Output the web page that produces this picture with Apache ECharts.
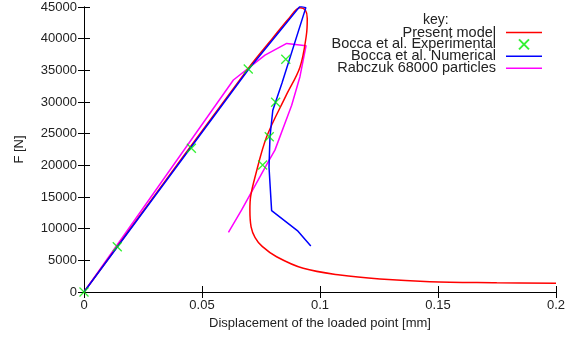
<!DOCTYPE html>
<html>
<head>
<meta charset="utf-8">
<script src="https://cdn.jsdelivr.net/npm/echarts@6/dist/echarts.min.js"></script>
<style>html,body{margin:0;padding:0;background:#fff}#c{width:586px;height:338px}</style>
</head>
<body>
<div id="c"></div>
<script>
// Tick definitions
const xTicks = [0, 0.05, 0.1, 0.15, 0.2];
const yTicks = [0, 5000, 10000, 15000, 20000, 25000, 30000, 35000, 40000, 45000];

// Present model (displacement mm, force N)
const presentX = [0, 0.0696, 0.080, 0.0868, 0.0915, 0.0938, 0.0946, 0.0942, 0.0915, 0.0856, 0.0774, 0.0725, 0.0706, 0.0703, 0.0708, 0.0725, 0.0755, 0.0816, 0.0929, 0.1085, 0.1254, 0.1466, 0.1749, 0.2];
const presentY = [0, 35300, 40100, 43200, 44900, 44500, 43200, 40500, 35500, 31000, 24500, 18200, 15050, 12950, 10300, 8600, 7200, 5570, 3740, 2680, 2050, 1630, 1470, 1370];

// Bocca et al. Experimental
const expX = [0, 0.0141, 0.0455, 0.0696, 0.0855, 0.0812, 0.0785, 0.0757];
const expY = [0, 7150, 22690, 35210, 36740, 29950, 24520, 20050];

// Bocca et al. Numerical
const numX = [0, 0.0696, 0.081, 0.0915, 0.094, 0.0839, 0.080, 0.0788, 0.0784, 0.0795, 0.0904, 0.0961];
const numY = [0, 35100, 40300, 45100, 44900, 33000, 28700, 24500, 19700, 12850, 9700, 7250];

// Rabczuk 68000 particles
const rabX = [0, 0.0633, 0.0767, 0.0859, 0.0941, 0.0915, 0.088, 0.0809, 0.0781, 0.0668, 0.0612];
const rabY = [0, 33470, 37400, 39250, 38900, 34000, 29500, 22400, 20600, 12950, 9430];

const names = ['Present model', 'Bocca et al. Experimental', 'Bocca et al. Numerical', 'Rabczuk 68000 particles'];

const zip = (a, b) => a.map((v, i) => [v, b[i]]);
const font = 'Liberation Sans';
const txt = '#222';
const lineIcon = 'path://M0,0H36V1.6H0Z';

const chart = echarts.init(document.getElementById('c'), null, {renderer: 'canvas'});
const xBase = {
  type: 'value', min: xTicks[0], max: xTicks[xTicks.length - 1], interval: 0.05,
  axisLine: {lineStyle: {color: '#000', width: 1}},
  axisTick: {inside: true, length: 6, lineStyle: {color: '#000'}},
  splitLine: {show: false}
};
const yBase = {
  type: 'value', min: yTicks[0], max: yTicks[yTicks.length - 1], interval: 5000,
  axisLine: {lineStyle: {color: '#000', width: 1}},
  axisTick: {inside: true, length: 6, lineStyle: {color: '#000'}},
  splitLine: {show: false}
};
chart.setOption({
  animation: false,
  grid: {left: 84, right: 30, top: 7, bottom: 46},
  graphic: [{type: 'text', left: 423, top: 13, style: {text: 'key:', font: '14px "Liberation Sans"', fill: txt}}],
  legend: {
    data: names.map((n, i) => i === 1 ? {name: n} : {name: n, icon: lineIcon}),
    orient: 'vertical', right: 44, top: 25, align: 'right', padding: 0,
    itemWidth: 36, itemHeight: 10, itemGap: -3.1,
    textStyle: {fontFamily: font, fontSize: 14.5, color: txt, lineHeight: 10, padding: [0, 5, 0, 0]}
  },
  xAxis: [
    Object.assign({}, xBase, {
      position: 'bottom',
      name: 'Displacement of the loaded point [mm]', nameLocation: 'middle', nameGap: 24,
      nameTextStyle: {fontFamily: font, fontSize: 13, color: txt},
      axisLabel: {margin: 7, fontFamily: font, fontSize: 13, color: txt, formatter: v => String(v)}
    }),
    Object.assign({}, xBase, {position: 'top', axisLabel: {show: false}})
  ],
  yAxis: [
    Object.assign({}, yBase, {
      position: 'left',
      name: 'F [N]', nameLocation: 'middle', nameGap: 58,
      nameTextStyle: {fontFamily: font, fontSize: 13, color: txt},
      axisLabel: {margin: 7, fontFamily: font, fontSize: 13, color: txt, formatter: v => String(v)}
    }),
    Object.assign({}, yBase, {position: 'right', axisLabel: {show: false}})
  ],
  series: [
    {name: names[0], type: 'line', data: zip(presentX, presentY), showSymbol: false, symbol: 'none', clip: true, smooth: 0.35,
     lineStyle: {color: '#ff0000', width: 1.5}, itemStyle: {color: '#ff0000'}, z: 3},
    {name: names[1], type: 'scatter', data: zip(expX, expY), symbol: 'path://M0,0L10,10M10,0L0,10', symbolSize: 9,
     itemStyle: {color: 'rgba(0,0,0,0)', borderColor: '#00ee00', borderWidth: 1.3}, z: 5},
    {name: names[2], type: 'line', data: zip(numX, numY), showSymbol: false, symbol: 'none', clip: true,
     lineStyle: {color: '#0000ff', width: 1.5}, itemStyle: {color: '#0000ff'}, z: 4},
    {name: names[3], type: 'line', data: zip(rabX, rabY), showSymbol: false, symbol: 'none', clip: true,
     lineStyle: {color: '#ff00ff', width: 1.5}, itemStyle: {color: '#ff00ff'}, z: 2}
  ]
});
</script>
</body>
</html>
